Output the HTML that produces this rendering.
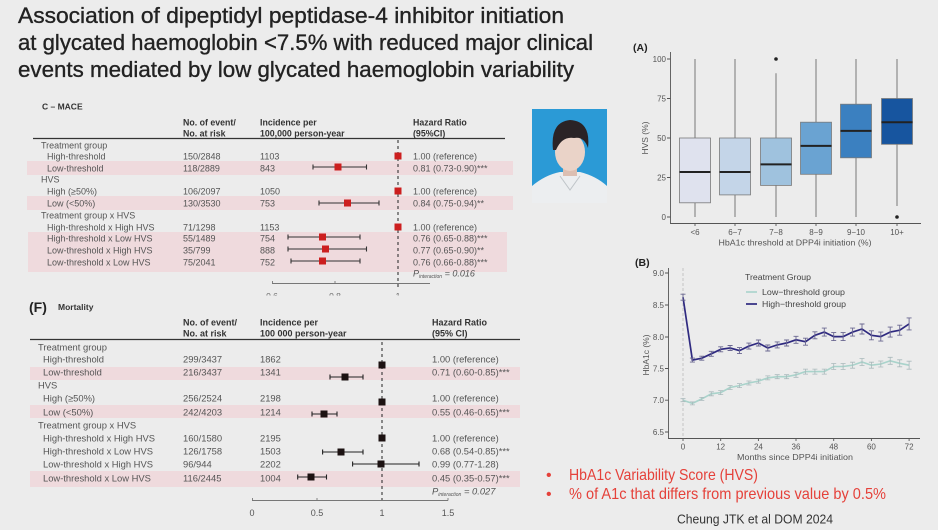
<!DOCTYPE html>
<html><head><meta charset="utf-8"><style>
html,body{margin:0;padding:0;background:#ececec;}
svg{display:block;}
</style></head><body>
<svg width="938" height="530" viewBox="0 0 938 530" xmlns="http://www.w3.org/2000/svg" font-family="Liberation Sans, Arial, sans-serif">
<rect width="938" height="530" fill="#ececec"/>

<!-- Title -->
<g fill="#222" stroke="#222" stroke-width="0.35" font-size="22">
<text x="18" y="23" textLength="546" lengthAdjust="spacingAndGlyphs">Association of dipeptidyl peptidase-4 inhibitor initiation</text>
<text x="18" y="50" textLength="575" lengthAdjust="spacingAndGlyphs">at glycated haemoglobin &lt;7.5% with reduced major clinical</text>
<text x="18" y="77" textLength="556" lengthAdjust="spacingAndGlyphs">events mediated by low glycated haemoglobin variability</text>
</g>

<!-- Photo -->
<rect x="532" y="109" width="75" height="94" fill="#2b9ad6"/>
<path d="M532 203 L532 186 Q545 175 560 172 L580 172 Q596 176 607 186 L607 203 Z" fill="#eceef0"/>
<rect x="563" y="160" width="14" height="16" fill="#dcbfb2"/>
<ellipse cx="570" cy="152" rx="15" ry="19" fill="#ead3c8"/>
<path d="M553 150 Q550 122 570 120 Q591 121 588 148 Q584 136 574 138 Q562 136 556 150 Z" fill="#2a2326"/>
<path d="M560 176 L570 190 L580 176" fill="none" stroke="#bfc4c8" stroke-width="1"/>

<!-- ================= MACE TABLE ================= -->
<g>
<!-- pink shading -->
<rect x="27" y="161" width="486" height="14" fill="#efdadd"/>
<rect x="27" y="196" width="486" height="14" fill="#efdadd"/>
<rect x="28" y="232" width="479" height="40" fill="#efdadd"/>

<text x="42" y="109.5" font-size="8.5" font-weight="bold" fill="#333">C – MACE</text>
<g font-size="8.8" font-weight="bold" fill="#333">
<text x="183" y="125.5">No. of event/</text>
<text x="183" y="136.5">No. at risk</text>
<text x="260" y="125.5">Incidence per</text>
<text x="260" y="136.5">100,000 person-year</text>
<text x="413" y="125.5">Hazard Ratio</text>
<text x="413" y="136.5">(95%CI)</text>
</g>
<line x1="33" y1="138.5" x2="505" y2="138.5" stroke="#333" stroke-width="1.3"/>

<g font-size="9" fill="#555">
<text x="41" y="148.5">Treatment group</text>
<text x="47" y="159.5">High-threshold</text>
<text x="47" y="171.5">Low-threshold</text>
<text x="41" y="182.5">HVS</text>
<text x="47" y="194.5">High (≥50%)</text>
<text x="47" y="206.5">Low (&lt;50%)</text>
<text x="41" y="218.5">Treatment group x HVS</text>
<text x="47" y="230.5">High-threshold x High HVS</text>
<text x="47" y="241.5">High-threshold x Low HVS</text>
<text x="47" y="253.5">Low-threshold x High HVS</text>
<text x="47" y="265.5">Low-threshold x Low HVS</text>

<text x="183" y="159.5">150/2848</text>
<text x="183" y="171.5">118/2889</text>
<text x="183" y="194.5">106/2097</text>
<text x="183" y="206.5">130/3530</text>
<text x="183" y="230.5">71/1298</text>
<text x="183" y="241.5">55/1489</text>
<text x="183" y="253.5">35/799</text>
<text x="183" y="265.5">75/2041</text>

<text x="260" y="159.5">1103</text>
<text x="260" y="171.5">843</text>
<text x="260" y="194.5">1050</text>
<text x="260" y="206.5">753</text>
<text x="260" y="230.5">1153</text>
<text x="260" y="241.5">754</text>
<text x="260" y="253.5">888</text>
<text x="260" y="265.5">752</text>

<text x="413" y="159.5">1.00 (reference)</text>
<text x="413" y="171.5">0.81 (0.73-0.90)***</text>
<text x="413" y="194.5">1.00 (reference)</text>
<text x="413" y="206.5">0.84 (0.75-0.94)**</text>
<text x="413" y="230.5">1.00 (reference)</text>
<text x="413" y="241.5">0.76 (0.65-0.88)***</text>
<text x="413" y="253.5">0.77 (0.65-0.90)**</text>
<text x="413" y="265.5">0.76 (0.66-0.88)***</text>
<text x="413" y="276.5" font-style="italic">P<tspan font-size="5" dy="1.5">interaction</tspan><tspan dy="-1.5"> = 0.016</tspan></text>
</g>

<!-- dashed ref line -->
<line x1="398" y1="140" x2="398" y2="290" stroke="#222" stroke-width="1" stroke-dasharray="3,3"/>
<!-- CIs -->
<g stroke="#333" stroke-width="1.1" fill="none">
<path d="M313 167H366.5M313 164.5V169.5M366.5 164.5V169.5"/>
<path d="M319 203H379M319 200.5V205.5M379 200.5V205.5"/>
<path d="M288 237H360M288 234.5V239.5M360 234.5V239.5"/>
<path d="M288 249H366.5M288 246.5V251.5M366.5 246.5V251.5"/>
<path d="M291 261H360M291 258.5V263.5M360 258.5V263.5"/>
</g>
<g fill="#cc1f1f">
<rect x="394.5" y="152.5" width="7" height="7"/>
<rect x="334.5" y="163.5" width="7" height="7"/>
<rect x="394.5" y="187.5" width="7" height="7"/>
<rect x="344" y="199.5" width="7" height="7"/>
<rect x="394.5" y="223.5" width="7" height="7"/>
<rect x="319" y="233.5" width="7" height="7"/>
<rect x="322" y="245.5" width="7" height="7"/>
<rect x="319" y="257.5" width="7" height="7"/>
</g>
<!-- axis -->
<clipPath id="cm"><rect x="0" y="270" width="600" height="25.5"/></clipPath>
<g clip-path="url(#cm)">
<path d="M272 283.5H430M272.5 281V283.5M335 281V283.5" stroke="#777" stroke-width="0.9" fill="none"/>
<g font-size="8.5" fill="#666" text-anchor="middle">
<text x="272" y="299">0.6</text>
<text x="335" y="299">0.8</text>
<text x="398" y="299">1</text>
</g>
</g>
</g>

<!-- ================= MORTALITY TABLE ================= -->
<g>
<rect x="30" y="367" width="490" height="13" fill="#efdadd"/>
<rect x="30" y="405" width="490" height="13" fill="#efdadd"/>
<rect x="30" y="471" width="490" height="16" fill="#efdadd"/>

<text x="29" y="312" font-size="14" font-weight="bold" fill="#222">(F)</text>
<text x="58" y="310" font-size="8.5" font-weight="bold" fill="#333">Mortality</text>
<g font-size="9" font-weight="bold" fill="#333">
<text x="183" y="325.4">No. of event/</text>
<text x="183" y="336.4">No. at risk</text>
<text x="260" y="325.4">Incidence per</text>
<text x="260" y="336.4">100 000 person-year</text>
<text x="432" y="325.4">Hazard Ratio</text>
<text x="432" y="336.4">(95% CI)</text>
</g>
<line x1="30" y1="339.5" x2="520" y2="339.5" stroke="#333" stroke-width="1.3"/>

<g font-size="9.4" fill="#555">
<text x="38" y="350.4">Treatment group</text>
<text x="43" y="362.4">High-threshold</text>
<text x="43" y="375.4">Low-threshold</text>
<text x="38" y="388.4">HVS</text>
<text x="43" y="401.4">High (≥50%)</text>
<text x="43" y="415.4">Low (&lt;50%)</text>
<text x="38" y="428.4">Treatment group x HVS</text>
<text x="43" y="441.4">High-threshold x High HVS</text>
<text x="43" y="454.4">High-threshold x Low HVS</text>
<text x="43" y="467.4">Low-threshold x High HVS</text>
<text x="43" y="481.4">Low-threshold x Low HVS</text>

<text x="183" y="362.4">299/3437</text>
<text x="183" y="375.4">216/3437</text>
<text x="183" y="401.4">256/2524</text>
<text x="183" y="415.4">242/4203</text>
<text x="183" y="441.4">160/1580</text>
<text x="183" y="454.4">126/1758</text>
<text x="183" y="467.4">96/944</text>
<text x="183" y="481.4">116/2445</text>

<text x="260" y="362.4">1862</text>
<text x="260" y="375.4">1341</text>
<text x="260" y="401.4">2198</text>
<text x="260" y="415.4">1214</text>
<text x="260" y="441.4">2195</text>
<text x="260" y="454.4">1503</text>
<text x="260" y="467.4">2202</text>
<text x="260" y="481.4">1004</text>

<text x="432" y="362.4">1.00 (reference)</text>
<text x="432" y="375.4">0.71 (0.60-0.85)***</text>
<text x="432" y="401.4">1.00 (reference)</text>
<text x="432" y="415.4">0.55 (0.46-0.65)***</text>
<text x="432" y="441.4">1.00 (reference)</text>
<text x="432" y="454.4">0.68 (0.54-0.85)***</text>
<text x="432" y="467.4">0.99 (0.77-1.28)</text>
<text x="432" y="481.4">0.45 (0.35-0.57)***</text>
<text x="432" y="494.4" font-style="italic">P<tspan font-size="5" dy="1.5">interaction</tspan><tspan dy="-1.5"> = 0.027</tspan></text>
</g>

<line x1="382" y1="342" x2="382" y2="500" stroke="#222" stroke-width="1" stroke-dasharray="3,3"/>
<g stroke="#222" stroke-width="1.1" fill="none">
<path d="M330 377H363M330 374.5V379.5M363 374.5V379.5"/>
<path d="M312 414H337M312 411.5V416.5M337 411.5V416.5"/>
<path d="M322.6 452H363M322.6 449.5V454.5M363 449.5V454.5"/>
<path d="M352.6 464H419M352.6 461.5V466.5M419 461.5V466.5"/>
<path d="M297.7 477H326.5M297.7 474.5V479.5M326.5 474.5V479.5"/>
</g>
<g fill="#1c1212">
<rect x="378.5" y="361.5" width="7" height="7"/>
<rect x="341.5" y="373.5" width="7" height="7"/>
<rect x="378.5" y="398.5" width="7" height="7"/>
<rect x="320.5" y="410.5" width="7" height="7"/>
<rect x="378.5" y="434.5" width="7" height="7"/>
<rect x="337.5" y="448.5" width="7" height="7"/>
<rect x="377.5" y="460.5" width="7" height="7"/>
<rect x="307.5" y="473.5" width="7" height="7"/>
</g>
<path d="M252 500.5H448M252.5 498V500.5M317 498V500.5M448 498V500.5" stroke="#777" stroke-width="0.9" fill="none"/>
<g font-size="9" fill="#555" text-anchor="middle">
<text x="252" y="516">0</text>
<text x="317" y="516">0.5</text>
<text x="382" y="516">1</text>
<text x="448" y="516">1.5</text>
</g>
</g>

<!-- ================= PANEL A ================= -->
<g>
<text x="633" y="51" font-size="10.5" font-weight="bold" fill="#222">(A)</text>
<g stroke="#999" stroke-width="1.4">
<line x1="695" y1="59" x2="695" y2="217"/>
<line x1="735" y1="59" x2="735" y2="217"/>
<line x1="776" y1="73.2" x2="776" y2="217"/>
<line x1="816" y1="59" x2="816" y2="217"/>
<line x1="856" y1="59" x2="856" y2="217"/>
<line x1="897" y1="59" x2="897" y2="206"/>
</g>
<g stroke="#7a7a7a" stroke-width="0.8">
<rect x="679.5" y="138" width="31" height="64.8" fill="#dfe2ee"/>
<rect x="719.5" y="138" width="31" height="56.9" fill="#c4d5e8"/>
<rect x="760.5" y="138" width="31" height="47.4" fill="#9fc2de"/>
<rect x="800.5" y="122.2" width="31" height="52.1" fill="#6aa3d2"/>
<rect x="840.5" y="104.2" width="31" height="53.6" fill="#3b80c0"/>
<rect x="881.5" y="98.5" width="31" height="45.8" fill="#17559f"/>
</g>
<g stroke="#222" stroke-width="2">
<line x1="679.5" y1="172" x2="710.5" y2="172"/>
<line x1="719.5" y1="172" x2="750.5" y2="172"/>
<line x1="760.5" y1="164.4" x2="791.5" y2="164.4"/>
<line x1="800.5" y1="145.9" x2="831.5" y2="145.9"/>
<line x1="840.5" y1="130.9" x2="871.5" y2="130.9"/>
<line x1="881.5" y1="122.2" x2="912.5" y2="122.2"/>
</g>
<circle cx="776" cy="59" r="1.8" fill="#222"/>
<circle cx="897" cy="217" r="1.8" fill="#222"/>
<path d="M670.5 52V223.5H921M667 59H670.5M667 98.5H670.5M667 138H670.5M667 177.5H670.5M667 217H670.5M695 223.5V226M735 223.5V226M776 223.5V226M816 223.5V226M856 223.5V226M897 223.5V226" stroke="#555" stroke-width="0.9" fill="none"/>
<g font-size="8" fill="#555" text-anchor="end">
<text x="666" y="62">100</text>
<text x="666" y="101.5">75</text>
<text x="666" y="141">50</text>
<text x="666" y="180.5">25</text>
<text x="666" y="220">0</text>
</g>
<g font-size="8" fill="#555" text-anchor="middle">
<text x="695" y="235">&lt;6</text>
<text x="735" y="235">6−7</text>
<text x="776" y="235">7−8</text>
<text x="816" y="235">8−9</text>
<text x="856" y="235">9−10</text>
<text x="897" y="235">10+</text>
<text x="795" y="245.5" font-size="8.5" textLength="153" lengthAdjust="spacingAndGlyphs">HbA1c threshold at DPP4i initiation (%)</text>
<text transform="translate(648,138) rotate(-90)" font-size="8.5">HVS (%)</text>
</g>
</g>

<!-- ================= PANEL B ================= -->
<g>
<text x="635" y="266" font-size="10.5" font-weight="bold" fill="#222">(B)</text>
<line x1="683" y1="268" x2="683" y2="438" stroke="#bbb" stroke-width="0.8" stroke-dasharray="3,2"/>
<!-- low series -->
<polyline fill="none" stroke="#a9d3cb" stroke-width="1.6" points="683,400.2 692.4,403.4 701.8,398.9 711.3,393.8 720.7,392.6 730.1,387.5 739.5,385.6 748.9,383 758.4,381.1 767.8,377.9 777.2,376.7 786.6,376.7 796,374.8 805.5,371.6 814.9,371.6 824.3,371.6 833.7,366.5 843.1,366.5 852.6,365.2 862,362 871.4,365.2 880.8,364 890.2,360.8 899.7,363.3 909.1,365.2"/>
<path fill="none" stroke="#a9b9bb" stroke-width="0.8" d="M683 398.7V401.7M680.5 398.7h5M680.5 401.7h5M692.4 401.9V404.9M689.9 401.9h5M689.9 404.9h5M701.8 397.4V400.4M699.3 397.4h5M699.3 400.4h5M711.3 391.8V395.8M708.8 391.8h5M708.8 395.8h5M720.7 390.6V394.6M718.2 390.6h5M718.2 394.6h5M730.1 385.5V389.5M727.6 385.5h5M727.6 389.5h5M739.5 383.6V387.6M737 383.6h5M737 387.6h5M748.9 381V385M746.4 381h5M746.4 385h5M758.4 379.1V383.1M755.9 379.1h5M755.9 383.1h5M767.8 375.9V379.9M765.3 375.9h5M765.3 379.9h5M777.2 374.7V378.7M774.7 374.7h5M774.7 378.7h5M786.6 374.7V378.7M784.1 374.7h5M784.1 378.7h5M796 372.3V377.3M793.5 372.3h5M793.5 377.3h5M805.5 369.1V374.1M803 369.1h5M803 374.1h5M814.9 369.1V374.1M812.4 369.1h5M812.4 374.1h5M824.3 369.1V374.1M821.8 369.1h5M821.8 374.1h5M833.7 363.5V369.5M831.2 363.5h5M831.2 369.5h5M843.1 363.5V369.5M840.6 363.5h5M840.6 369.5h5M852.6 362.2V368.2M850.1 362.2h5M850.1 368.2h5M862 358.5V365.5M859.5 358.5h5M859.5 365.5h5M871.4 362.2V368.2M868.9 362.2h5M868.9 368.2h5M880.8 361V367M878.3 361h5M878.3 367h5M890.2 357.3V364.3M887.7 357.3h5M887.7 364.3h5M899.7 359.8V366.8M897.2 359.8h5M897.2 366.8h5M909.1 361.2V369.2M906.6 361.2h5M906.6 369.2h5"/>
<!-- high series -->
<polyline fill="none" stroke="#2f2a80" stroke-width="1.7" points="683,297.2 692.4,360.1 701.8,358.2 711.3,353.8 720.7,349.3 730.1,348 739.5,350.6 748.9,346.1 758.4,343 767.8,348 777.2,344.9 786.6,343 796,339.8 805.5,341.7 814.9,335.3 824.3,332.1 833.7,336.6 843.1,336.6 852.6,332.1 862,329 871.4,335.3 880.8,336.6 890.2,332.1 899.7,330.2 909.1,323.9"/>
<path fill="none" stroke="#6a6790" stroke-width="0.9" d="M683 294.2V300.2M680.5 294.2h5M680.5 300.2h5M692.4 358.1V362.1M689.9 358.1h5M689.9 362.1h5M701.8 356.2V360.2M699.3 356.2h5M699.3 360.2h5M711.3 351.3V356.3M708.8 351.3h5M708.8 356.3h5M720.7 346.8V351.8M718.2 346.8h5M718.2 351.8h5M730.1 345.5V350.5M727.6 345.5h5M727.6 350.5h5M739.5 347.6V353.6M737 347.6h5M737 353.6h5M748.9 343.1V349.1M746.4 343.1h5M746.4 349.1h5M758.4 340V346M755.9 340h5M755.9 346h5M767.8 345V351M765.3 345h5M765.3 351h5M777.2 341.9V347.9M774.7 341.9h5M774.7 347.9h5M786.6 340V346M784.1 340h5M784.1 346h5M796 336.3V343.3M793.5 336.3h5M793.5 343.3h5M805.5 338.2V345.2M803 338.2h5M803 345.2h5M814.9 331.8V338.8M812.4 331.8h5M812.4 338.8h5M824.3 328.1V336.1M821.8 328.1h5M821.8 336.1h5M833.7 332.6V340.6M831.2 332.6h5M831.2 340.6h5M843.1 332.6V340.6M840.6 332.6h5M840.6 340.6h5M852.6 328.1V336.1M850.1 328.1h5M850.1 336.1h5M862 324V334M859.5 324h5M859.5 334h5M871.4 330.8V339.8M868.9 330.8h5M868.9 339.8h5M880.8 332.1V341.1M878.3 332.1h5M878.3 341.1h5M890.2 327.1V337.1M887.7 327.1h5M887.7 337.1h5M899.7 325.2V335.2M897.2 325.2h5M897.2 335.2h5M909.1 317.9V329.9M906.6 317.9h5M906.6 329.9h5"/>
<!-- axes -->
<path d="M668.5 268V438.5H920M665 273H668.5M665 305H668.5M665 337H668.5M665 368.5H668.5M665 400.2H668.5M665 432H668.5M683 438.5V441M720.7 438.5V441M758.4 438.5V441M796 438.5V441M833.7 438.5V441M871.4 438.5V441M909.1 438.5V441" stroke="#555" stroke-width="0.9" fill="none"/>
<g font-size="8" fill="#555" text-anchor="end">
<text x="664" y="276">9.0</text>
<text x="664" y="308">8.5</text>
<text x="664" y="340">8.0</text>
<text x="664" y="371.5">7.5</text>
<text x="664" y="403">7.0</text>
<text x="664" y="435">6.5</text>
</g>
<g font-size="8" fill="#555" text-anchor="middle">
<text x="683" y="449.5">0</text>
<text x="720.7" y="449.5">12</text>
<text x="758.4" y="449.5">24</text>
<text x="796" y="449.5">36</text>
<text x="833.7" y="449.5">48</text>
<text x="871.4" y="449.5">60</text>
<text x="909.1" y="449.5">72</text>
<text x="795" y="460" font-size="8.5" textLength="116" lengthAdjust="spacingAndGlyphs">Months since DPP4i initiation</text>
<text transform="translate(649,355) rotate(-90)" font-size="8.5">HbA1c (%)</text>
</g>
<!-- legend -->
<text x="745" y="280" font-size="8" fill="#444" textLength="66" lengthAdjust="spacingAndGlyphs">Treatment Group</text>
<line x1="746" y1="292" x2="757" y2="292" stroke="#a9d3cb" stroke-width="1.6"/>
<line x1="746" y1="304" x2="757" y2="304" stroke="#2f2a80" stroke-width="1.7"/>
<text x="762" y="295" font-size="8.5" fill="#444" textLength="83" lengthAdjust="spacingAndGlyphs">Low−threshold group</text>
<text x="762" y="307" font-size="8.5" fill="#444" textLength="84" lengthAdjust="spacingAndGlyphs">High−threshold group</text>
</g>

<!-- Bullets -->
<g fill="#e5413a" font-size="16">
<text x="546" y="480">•</text>
<text x="546" y="499">•</text>
<text x="569" y="480" textLength="189" lengthAdjust="spacingAndGlyphs">HbA1c Variability Score (HVS)</text>
<text x="569" y="499" textLength="317" lengthAdjust="spacingAndGlyphs">% of A1c that differs from previous value by 0.5%</text>
</g>
<text x="677" y="523.5" font-size="13" fill="#333" textLength="156" lengthAdjust="spacingAndGlyphs">Cheung JTK et al DOM 2024</text>
</svg>
</body></html>
